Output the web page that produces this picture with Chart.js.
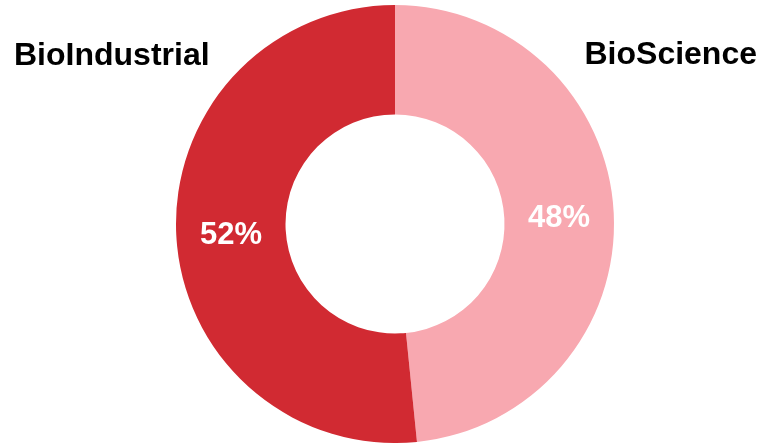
<!DOCTYPE html>
<html>
<head>
<meta charset="utf-8">
<script src="https://cdn.jsdelivr.net/npm/chart.js@4.4.0/dist/chart.umd.min.js"></script>
<style>
  html, body { margin: 0; padding: 0; background: #fff; }
  #wrap { width: 763px; height: 443px; position: relative; }
</style>
</head>
<body>
<div id="wrap"><canvas id="donut"></canvas></div>
<script>
var segments = ['BioScience', 'BioIndustrial'];
var shares = [48.4, 51.6];
var colors = ['#F8A8B0', '#D12A32'];

// segment names written in the corners, percentages inside the ring
var labelPlugin = {
  id: 'labelPlugin',
  afterDatasetsDraw: function(chart) {
    var ctx = chart.ctx;
    var meta = chart.getDatasetMeta(0);
    var total = shares.reduce(function(a, b) { return a + b; }, 0);
    ctx.save();
    ctx.font = 'bold 31px "Liberation Sans", Arial, sans-serif';
    ctx.fillStyle = '#fff';
    ctx.textAlign = 'center';
    ctx.textBaseline = 'middle';
    meta.data.forEach(function(arc, i) {
      var p = arc.tooltipPosition();
      var pct = Math.round(shares[i] / total * 100) + '%';
      ctx.fillText(pct, p.x, p.y + 3);
    });
    ctx.font = 'bold 32px "Liberation Sans", Arial, sans-serif';
    ctx.fillStyle = '#000';
    ctx.textBaseline = 'alphabetic';
    ctx.textAlign = 'left';
    ctx.fillText(segments[1], 14, 65);
    ctx.textAlign = 'right';
    ctx.fillText(segments[0], 757, 64);
    ctx.restore();
  }
};

var chart = new Chart(document.getElementById('donut').getContext('2d'), {
  type: 'doughnut',
  data: {
    labels: segments,
    datasets: [{
      data: shares,
      backgroundColor: colors,
      borderWidth: 0
    }]
  },
  options: {
    responsive: true,
    maintainAspectRatio: false,
    animation: false,
    cutout: '50%',
    layout: { padding: { top: 5, left: 27, bottom: 0, right: 0 } },
    plugins: {
      legend: { display: false },
      tooltip: { enabled: false }
    }
  },
  plugins: [labelPlugin]
});
</script>
</body>
</html>
